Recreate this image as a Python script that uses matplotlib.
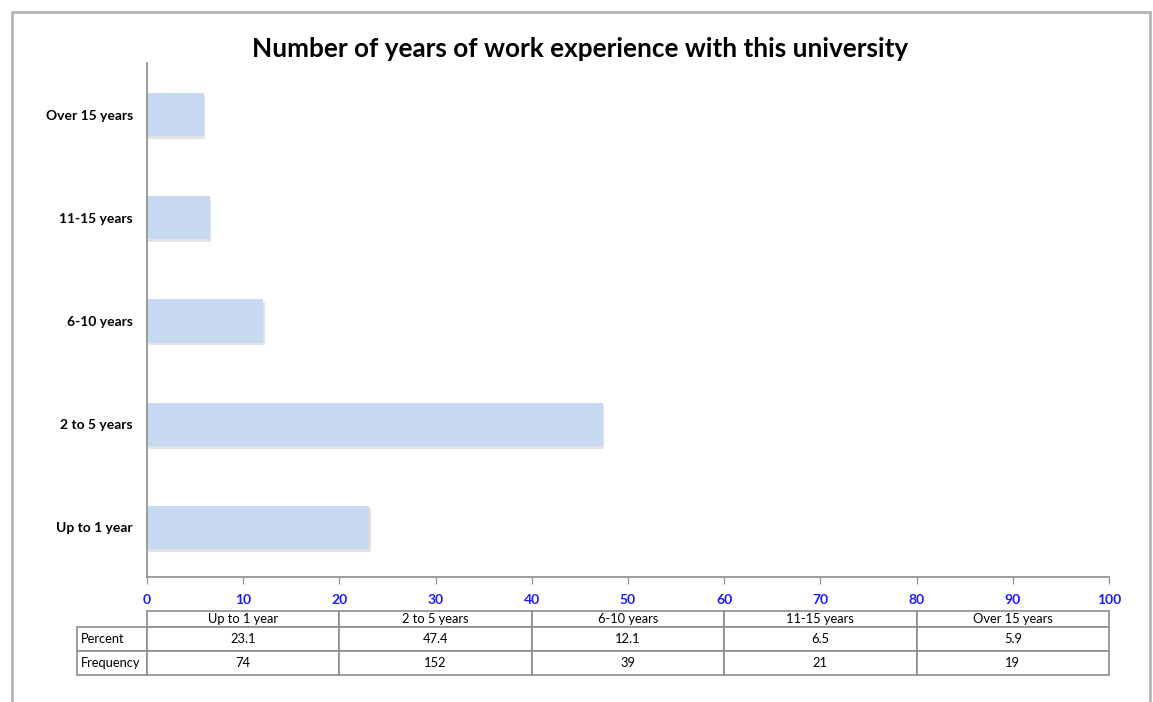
import matplotlib.pyplot as plt
from matplotlib.patches import Rectangle
from matplotlib.table import Table

categories = ["Up to 1 year", "2 to 5 years", "6-10 years", "11-15 years", "Over 15 years"]
percent = [23.1, 47.4, 12.1, 6.5, 5.9]
frequency = [74, 152, 39, 21, 19]
xticks = [0, 10, 20, 30, 40, 50, 60, 70, 80, 90, 100]

plt.rcParams['font.family'] = ['Lato', 'DejaVu Sans']

W, H = 1153, 702
fig = plt.figure(figsize=(W / 100, H / 100), dpi=100)
ax = fig.add_axes([147 / W, 1 - 577 / H, (1109 - 147) / W, (577 - 63) / H])

# outer chart frame
fig.patches.append(Rectangle((12 / W, -0.05), (1150 - 12) / W, 1 - 12 / H + 0.05,
                             transform=fig.transFigure, fill=False,
                             edgecolor='#b4b4b4', linewidth=2))

y = range(len(categories))
# soft drop shadow under each bar
ax.barh([i - 0.025 for i in y], percent, height=0.42, left=0.15,
        color='#c8c8c8', alpha=0.5, zorder=1)
ax.barh(y, percent, height=0.42, color='#c6d9f1', zorder=2)

ax.set_xlim(0, 100)
ax.set_ylim(-0.48, 4.5)
ax.set_xticks(xticks)
ax.set_yticks(list(y))
ax.set_yticklabels(categories, fontsize=10, fontweight='bold')
ax.tick_params(axis='y', length=0, pad=10)
ax.tick_params(axis='x', length=5, direction='out', color='#8c8c8c', pad=7,
               labelsize=10, labelcolor='#1a1aff')
for lbl in ax.get_xticklabels():
    lbl.set_fontweight('bold')
for s in ['top', 'right']:
    ax.spines[s].set_visible(False)
for s in ['left', 'bottom']:
    ax.spines[s].set_color('#8c8c8c')
    ax.spines[s].set_linewidth(1.2)

fig.text(580 / W, 1 - 49 / H, "Number of years of work experience with this university",
         ha='center', va='center', fontsize=18.8, fontweight='bold')

# data table under the axis
ah = 577 - 63
lab_w = 70 / 962
hh, rh = 16 / ah, 24 / ah
tab = Table(ax, bbox=[0, -(675 - 577) / ah, 1, (675 - 611) / ah])
for c, name in enumerate(categories):
    tab.add_cell(0, c, width=0.2, height=hh, text=name, loc='center')
    tab.add_cell(1, c, width=0.2, height=rh, text=f"{percent[c]}", loc='center')
    tab.add_cell(2, c, width=0.2, height=rh, text=f"{frequency[c]}", loc='center')
tab.add_cell(1, -1, width=lab_w, height=rh, text="Percent", loc='left')
tab.add_cell(2, -1, width=lab_w, height=rh, text="Frequency", loc='left')
tab.auto_set_font_size(False)
tab.set_fontsize(9.3)
for (r, c), cell in tab.get_celld().items():
    cell.set_edgecolor('#8c8c8c')
    cell.set_linewidth(1.2)
    cell.PAD = 0.05
ax.add_table(tab)

fig.savefig('out.png', dpi=100)
